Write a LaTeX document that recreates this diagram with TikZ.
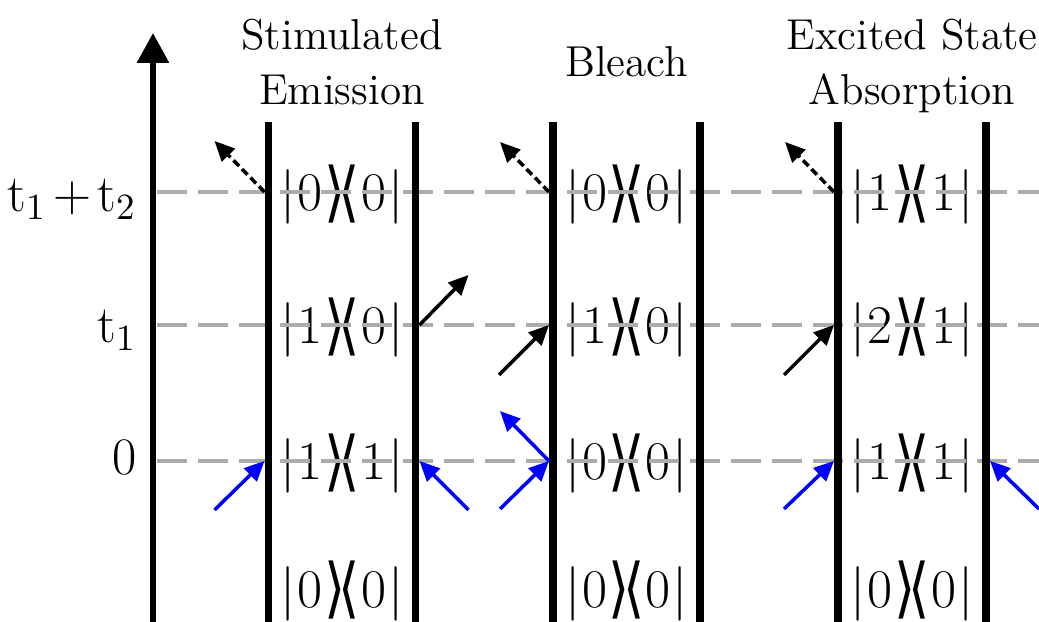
\documentclass[tikz,border=0pt]{standalone}
\usepackage{amsmath}
\usepackage{graphicx}
\usepackage{fontspec}
\newfontfamily\anglefont{DejaVu Sans}
\usetikzlibrary{arrows.meta,calc}

\newcommand{\ang}[1]{\raisebox{-0.07em}{\scalebox{1}[1.2]{\anglefont #1}}}
\newcommand{\kb}[2]{|\kern0.04em#1\kern0.02em\ang{⟩}\kern-0.12em\ang{⟨}\kern0.02em#2\kern0.04em|}

\begin{document}
\begin{tikzpicture}[x=0.5cm, y=0.5cm,
  wall/.style={line width=2.1pt},
  level/.style={gray!65, line width=1pt, dash pattern=on 0.3cm off 0.11cm},
  pulse/.style={line width=1pt, -{Triangle[length=0.2cm,width=0.18cm]}},
  signal/.style={pulse, dash pattern=on 2.25pt off 1.2pt},
  ket/.style={font=\fontsize{15.5}{17}\selectfont, inner sep=0pt},
  heading/.style={font=\fontsize{12.3}{15.65}\selectfont, align=center, inner sep=0pt, anchor=base},
  tlabel/.style={font=\fontsize{15}{17}\selectfont, inner sep=0pt, anchor=base east}
]
\useasboundingbox (0,0) rectangle (20.78,12.44);

% Time axis
\draw[line width=1.7pt, -{Triangle[length=0.3cm,width=0.31cm]}] (3.06,0) -- (3.06,11.78);
\node[tlabel] (lab2) at (2.74,8.2) {t$_\text{1}$\kern0.12em+\kern0.12em t$_\text{2}$};
\node[tlabel] (lab1) at (2.74,5.58) {t$_\text{1}$};
\node[tlabel] (lab0) at (2.74,2.94) {0};

% Titles
\node[heading] (seTitle) at (6.84,10.34) {Stimulated\\Emission};
\node[heading] (blTitle) at (12.53,10.9) {Bleach};
\node[heading] (esaTitle) at (18.24,10.34) {Excited State\\Absorption};

% Density matrix elements
\node[ket] (se3) at (6.84,8.55) {\kb{0}{0}};
\node[ket] (se2) at (6.84,5.89) {\kb{1}{0}};
\node[ket] (se1) at (6.84,3.17) {\kb{1}{1}};
\node[ket] (se0) at (6.84,0.62) {\kb{0}{0}};
\node[ket] (bl3) at (12.53,8.55) {\kb{0}{0}};
\node[ket] (bl2) at (12.53,5.89) {\kb{1}{0}};
\node[ket] (bl1) at (12.53,3.17) {\kb{0}{0}};
\node[ket] (bl0) at (12.53,0.62) {\kb{0}{0}};
\node[ket] (esa3) at (18.24,8.55) {\kb{1}{1}};
\node[ket] (esa2) at (18.24,5.89) {\kb{2}{1}};
\node[ket] (esa1) at (18.24,3.17) {\kb{1}{1}};
\node[ket] (esa0) at (18.24,0.62) {\kb{0}{0}};

% Time levels
\draw[level] (3.14,8.6) -- (20.78,8.6);
\draw[level] (3.14,5.94) -- (20.78,5.94);
\draw[level] (3.14,3.22) -- (20.78,3.22);

% Ket and bra sides
\draw[wall] (5.37,0) -- (5.37,10);
\draw[wall] (8.31,0) -- (8.31,10);
\draw[wall] (11.06,0) -- (11.06,10);
\draw[wall] (14.0,0) -- (14.0,10);
\draw[wall] (16.76,0) -- (16.76,10);
\draw[wall] (19.72,0) -- (19.72,10);

% Interaction points
\coordinate (seA) at (5.37,8.6);
\coordinate (seB) at (8.31,5.94);
\coordinate (seC) at (5.37,3.22);
\coordinate (seD) at (8.31,3.22);
\coordinate (blA) at (11.06,8.6);
\coordinate (blB) at (11.06,5.94);
\coordinate (blC) at (11.06,3.22);
\coordinate (esaA) at (16.76,8.6);
\coordinate (esaB) at (16.76,5.94);
\coordinate (esaC) at (16.76,3.22);
\coordinate (esaD) at (19.72,3.22);

% Stimulated emission
\draw[signal] ($(seA)+(-0.08,0)$) -- ($(seA)+(-1.08,1.02)$);
\draw[pulse] ($(seB)+(0.08,0)$) -- ($(seB)+(1.06,1.0)$);
\draw[pulse, blue] ($(seC)+(-1.08,-0.98)$) -- ($(seC)+(-0.08,0)$);
\draw[pulse, blue] ($(seD)+(1.06,-0.98)$) -- ($(seD)+(0.08,0)$);

% Bleach
\draw[signal] ($(blA)+(-0.08,0)$) -- ($(blA)+(-1.06,1.0)$);
\draw[pulse] ($(blB)+(-1.08,-1.0)$) -- ($(blB)+(-0.08,0)$);
\draw[pulse, blue] ($(blC)+(-1.06,-0.96)$) -- ($(blC)+(-0.08,0)$);
\draw[pulse, blue] ($(blC)+(-0.08,0)$) -- ($(blC)+(-1.06,1.0)$);

% Excited state absorption
\draw[signal] ($(esaA)+(-0.08,0)$) -- ($(esaA)+(-1.06,1.0)$);
\draw[pulse] ($(esaB)+(-1.08,-1.0)$) -- ($(esaB)+(-0.08,0)$);
\draw[pulse, blue] ($(esaC)+(-1.08,-0.96)$) -- ($(esaC)+(-0.08,0)$);
\draw[pulse, blue] ($(esaD)+(1.06,-0.96)$) -- ($(esaD)+(0.08,0)$);

\end{tikzpicture}
\end{document}
